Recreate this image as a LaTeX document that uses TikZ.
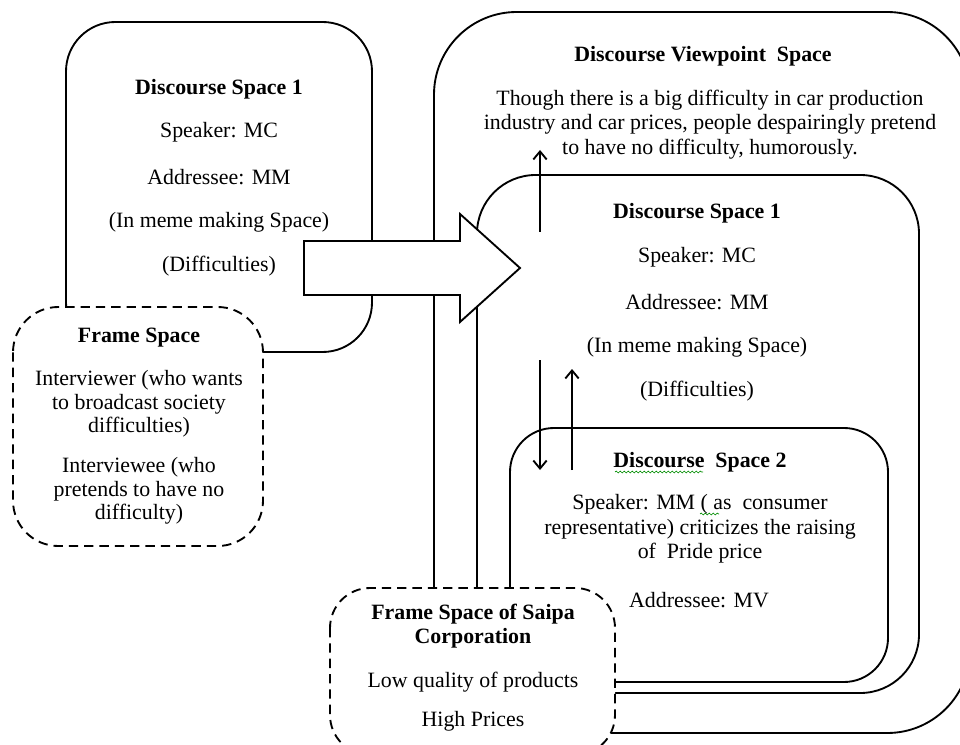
\documentclass[tikz,border=0pt]{standalone}
\usepackage{fontspec}
\setmainfont{Liberation Serif}
\usetikzlibrary{arrows.meta,decorations.pathmorphing}

\begin{document}
\begin{tikzpicture}[x=0.75pt,y=-0.75pt,
  box/.style={draw, line width=1.4pt},
  dbox/.style={draw, line width=1.4pt, dash pattern=on 7pt off 4.5pt, fill=white},
  txt/.style={font=\fontsize{16.4}{18.4}\selectfont, align=center, inner sep=0pt},
  tight/.style={font=\fontsize{16.4}{17.5}\selectfont, align=center, inner sep=0pt},
  hd/.style={font=\fontsize{16.4}{18.2}\selectfont\bfseries, align=center, inner sep=0pt},
  link/.style={line width=1.4pt, -{Straight Barb[length=6pt,width=10pt]}},
  squiggle/.style={green!55!black, line width=0.5pt, decorate,
                   decoration={snake, amplitude=0.7pt, segment length=3pt}}
]
\useasboundingbox (0,0) rectangle (960,745);
\begin{scope}
\clip (0,0) rectangle (960,745);

% nested spaces on the right
\draw[box, rounded corners=62pt] (434,12) rectangle (970,733);   % viewpoint space
\draw[box, rounded corners=44pt] (477,175) rectangle (919,693);  % discourse space 1
\draw[box, rounded corners=33pt] (510,428) rectangle (888,682);  % discourse space 2

% discourse space 1 on the left
\draw[box, rounded corners=37pt] (66,22) rectangle (372,352);

% frame spaces (dashed, drawn over the box edges)
\draw[dbox, rounded corners=34pt] (13,307) rectangle (263,546);
\draw[dbox, rounded corners=30pt] (330,588) rectangle (615,755);

% block arrow between the two discourse spaces
\draw[box, fill=white, line join=miter]
  (304,241) -- (460,241) -- (460,214) -- (520,268) -- (460,322) -- (460,295) -- (304,295) -- cycle;
\end{scope}

% --- texts: left discourse space ---
\node[hd]  (lh) at (219,89)  {Discourse Space 1};
\node[txt] (ls) at (219,132) {Speaker: MC};
\node[txt] (la) at (219,177) {Addressee: MM};
\node[txt] (lm) at (219,222) {(In meme making Space)};
\node[txt] (ld) at (219,266) {(Difficulties)};

% --- frame space ---
\node[hd]    (fh) at (139,338) {Frame Space};
\node[tight] (fi) at (139,404) {Interviewer (who wants\\to broadcast society\\difficulties)};
\node[tight] (fe) at (139,491) {Interviewee (who\\pretends to have no\\difficulty)};

% --- viewpoint space ---
\node[hd]  (vh) at (703,56)  {Discourse Viewpoint\ \ Space};
\node[txt] (vt) at (710,124.5) {Though there is a big difficulty in car production\\industry and car prices, people despairingly pretend\\to have no difficulty, humorously.};

% --- inner discourse space 1 ---
\node[hd]  (rh) at (697,213) {Discourse Space 1};
\node[txt] (rs) at (697,257) {Speaker: MC};
\node[txt] (ra) at (697,302) {Addressee: MM};
\node[txt] (rm) at (697,347) {(In meme making Space)};
\node[txt] (rd) at (697,391) {(Difficulties)};

% --- discourse space 2 ---
\node[hd]  (sh) at (700,462) {Discourse\ \ Space 2};
\node[txt] (st) at (700,529) {Speaker: MM (\ as\ \ consumer\\representative) criticizes the raising\\of\ \ Pride price};
\node[txt] (sa) at (699,600) {Addressee: MV};

% --- frame space of Saipa ---
\node[hd]  (ph) at (473,626) {Frame Space of Saipa\\Corporation};
\node[txt] (pl) at (473,682) {Low quality of products};
\node[txt] (pp) at (473,721) {High Prices};

% spell-check marks under two words
\draw[squiggle] (615,472) -- (703,472);
\draw[squiggle] (700,514) -- (719,514);

% connectors between the spaces
\coordinate (upA) at (540,232);
\coordinate (upB) at (540,150);
\coordinate (dnA) at (540,360);
\coordinate (dnB) at (540,470);
\coordinate (bkA) at (572,470);
\coordinate (bkB) at (572,369);
\draw[link] (upA) -- (upB);
\draw[link] (dnA) -- (dnB);
\draw[link] (bkA) -- (bkB);
\end{tikzpicture}
\end{document}
